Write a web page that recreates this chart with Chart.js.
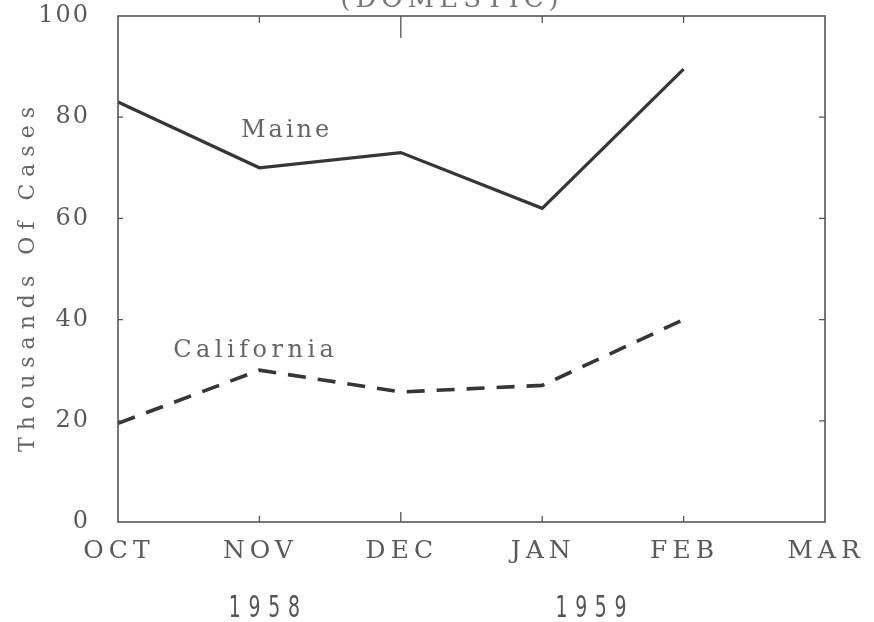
<!DOCTYPE html>
<html>
<head>
<meta charset="utf-8">
<script src="https://cdn.jsdelivr.net/npm/chart.js@4/dist/chart.umd.min.js"></script>
<style>
  html, body { margin: 0; padding: 0; background: #fff; }
  #wrap { width: 874px; height: 622px; }
</style>
</head>
<body>
<div id="wrap"><canvas id="chart"></canvas></div>
<script>
// данные графика
const months = ['OCT', 'NOV', 'DEC', 'JAN', 'FEB', 'MAR'];
const maineCases = [83, 70, 73, 62, 89.5];
const californiaCases = [19.5, 30, 25.7, 27, 40];
const yTicks = [0, 20, 40, 60, 80, 100];
const yearLabels = ['1958', '1959'];
const yearPositions = [1.02, 3.33]; // в индексах категорий

const SERIF = '"DejaVu Serif", "Liberation Serif", serif';

// лёгкая разрядка цифр на оси Y
const spacingPlugin = {
    id: 'spacing',
    beforeDraw(chart) {
        if (chart.ctx.letterSpacing !== undefined) chart.ctx.letterSpacing = '2px';
    }
};

// рамка, внутренние засечки, подписи месяцев, линий и годы
const framePlugin = {
    id: 'frame',
    afterDraw(chart) {
        const { ctx, chartArea: a, scales } = chart;
        const x = scales.x, y = scales.y;
        const hasLS = ctx.letterSpacing !== undefined;
        ctx.save();
        ctx.strokeStyle = '#555';
        ctx.lineWidth = 1.6;
        ctx.strokeRect(a.left, a.top, a.right - a.left, a.bottom - a.top);

        ctx.lineWidth = 1.3;
        ctx.beginPath();
        for (let i = 1; i < months.length - 1; i++) {
            const px = x.getPixelForValue(i);
            const topLen = i === 2 ? 22 : 7;
            const botLen = i === 2 ? 10 : 6;
            ctx.moveTo(px, a.top); ctx.lineTo(px, a.top + topLen);
            ctx.moveTo(px, a.bottom); ctx.lineTo(px, a.bottom - botLen);
        }
        yTicks.slice(1, -1).forEach(v => {
            const py = y.getPixelForValue(v);
            ctx.moveTo(a.left, py); ctx.lineTo(a.left + 5, py);
            ctx.moveTo(a.right, py); ctx.lineTo(a.right - 6, py);
        });
        ctx.stroke();

        // месяцы под осью X
        ctx.fillStyle = '#5a5a5a';
        ctx.font = '25px ' + SERIF;
        ctx.textAlign = 'center';
        ctx.textBaseline = 'alphabetic';
        if (hasLS) ctx.letterSpacing = '5px';
        months.forEach((m, i) => {
            ctx.fillText(m, x.getPixelForValue(i) + 1, a.bottom + 36);
        });

        // подпись оси Y
        ctx.save();
        ctx.fillStyle = '#666';
        ctx.font = '22px ' + SERIF;
        ctx.textAlign = 'center';
        ctx.textBaseline = 'middle';
        if (hasLS) ctx.letterSpacing = '7px';
        ctx.translate(28, (a.top + a.bottom) / 2 + 7);
        ctx.rotate(-Math.PI / 2);
        ctx.fillText('Thousands Of Cases', 0, 0);
        ctx.restore();

        // подписи серий
        ctx.fillStyle = '#666';
        ctx.font = '24px ' + SERIF;
        ctx.textBaseline = 'alphabetic';
        ctx.textAlign = 'left';
        if (hasLS) ctx.letterSpacing = '3px';
        ctx.fillText('Maine', x.getPixelForValue(0.87), y.getPixelForValue(76));
        if (hasLS) ctx.letterSpacing = '4.5px';
        ctx.fillText('California', x.getPixelForValue(0.39), y.getPixelForValue(32.7));

        // годы (узкий шрифт)
        ctx.fillStyle = '#555';
        ctx.font = '30px "DejaVu Sans Condensed", "Liberation Sans Narrow", sans-serif';
        ctx.textAlign = 'center';
        if (hasLS) ctx.letterSpacing = '11px';
        yearLabels.forEach((t, i) => {
            const cx = x.getPixelForValue(yearPositions[i]) + 6;
            ctx.save();
            ctx.translate(cx, 617);
            ctx.scale(0.7, 1);
            ctx.fillText(t, 0, 0);
            ctx.restore();
        });

        // заголовок, обрезанный сверху
        ctx.fillStyle = '#777';
        ctx.font = '26px ' + SERIF;
        if (hasLS) ctx.letterSpacing = '5px';
        ctx.fillText('(DOMESTIC)', 452, 7);
        ctx.restore();
        if (hasLS) ctx.letterSpacing = '0px';
    }
};

const chart = new Chart(document.getElementById('chart'), {
    type: 'line',
    data: {
        labels: months,
        datasets: [
            {
                label: 'Maine',
                data: maineCases,
                borderColor: '#363636',
                borderWidth: 3.2,
                pointRadius: 0,
                tension: 0,
                fill: false
            },
            {
                label: 'California',
                data: californiaCases,
                borderColor: '#363636',
                borderWidth: 3.6,
                borderDash: [18, 12],
                pointRadius: 0,
                tension: 0,
                fill: false
            }
        ]
    },
    options: {
        responsive: true,
        maintainAspectRatio: false,
        animation: false,
        layout: { padding: { top: 16, right: 49, left: 0, bottom: 0 } },
        plugins: {
            legend: { display: false },
            tooltip: { enabled: false },
            title: { display: false }
        },
        scales: {
            x: {
                type: 'category',
                offset: false,
                grid: { display: false },
                border: { display: false },
                ticks: { display: false, autoSkip: false },
                afterFit(scale) {
                    scale.height = 100;
                    scale.paddingLeft = 0;
                    scale.paddingRight = 0;
                }
            },
            y: {
                min: 0,
                max: 100,
                grid: { display: false },
                border: { display: false },
                afterBuildTicks(scale) { scale.ticks = yTicks.map(v => ({ value: v })); },
                ticks: {
                    color: '#5a5a5a',
                    padding: 20,
                    font: { family: SERIF, size: 24 }
                },
                afterFit(scale) {
                    scale.width = 118;
                    scale.paddingTop = 0;
                    scale.paddingBottom = 0;
                }
            }
        }
    },
    plugins: [spacingPlugin, framePlugin]
});
</script>
</body>
</html>
